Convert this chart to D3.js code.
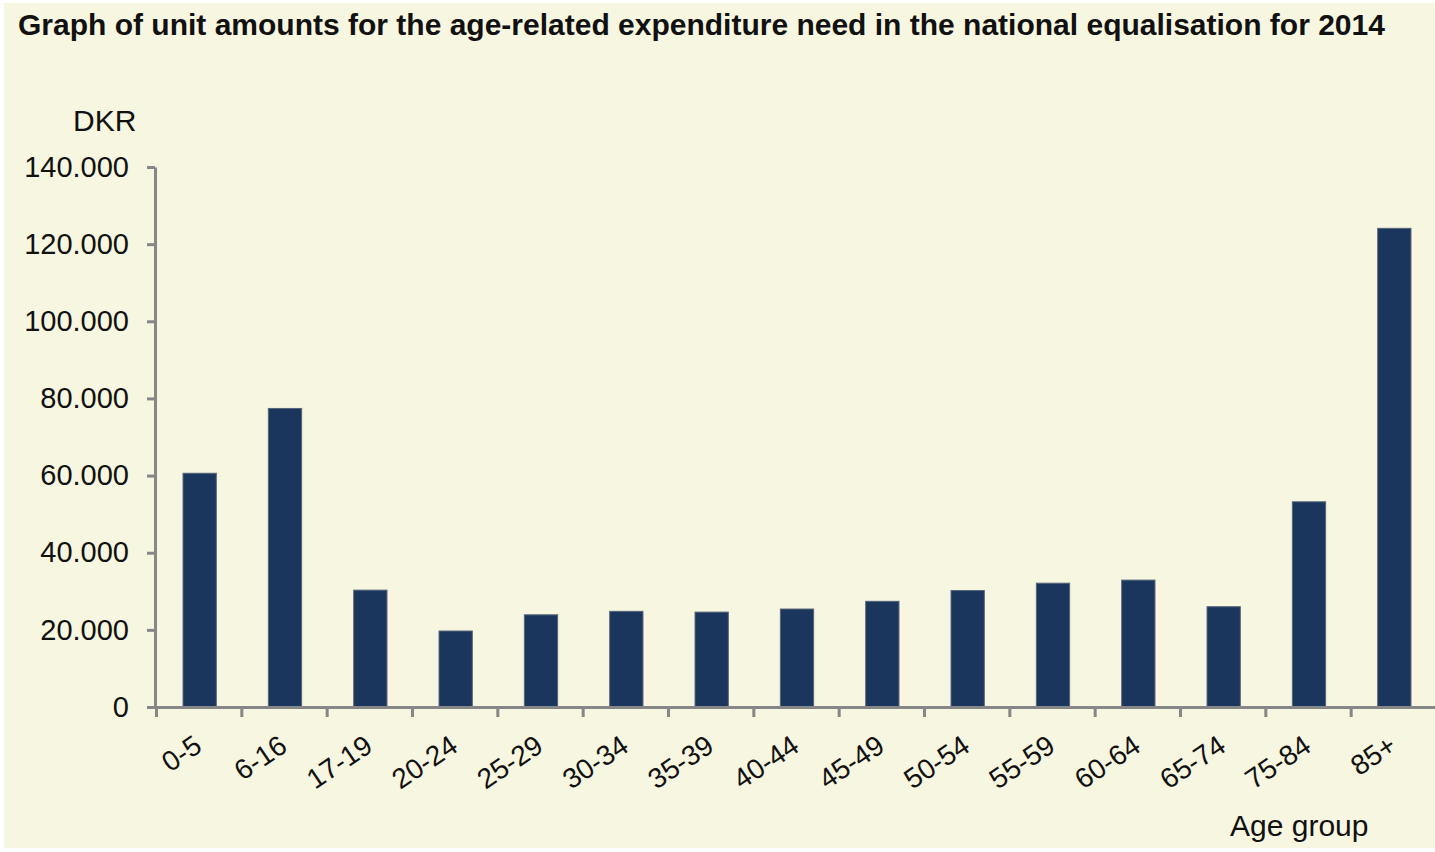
<!DOCTYPE html>
<html>
<head>
<meta charset="utf-8">
<script src="https://cdn.jsdelivr.net/npm/d3@7"></script>
<style>
  body { margin: 0; background: #ffffff; }
  text { font-family: "Liberation Sans", Arial, sans-serif; fill: #111; }
</style>
</head>
<body>
<svg id="chart" width="1435" height="852"></svg>
<script>
var categories = ["0-5", "6-16", "17-19", "20-24", "25-29", "30-34", "35-39", "40-44",
  "45-49", "50-54", "55-59", "60-64", "65-74", "75-84", "85+"];
var values = [60600, 77400, 30300, 19700, 23900, 24800, 24600, 25400,
  27400, 30200, 32100, 32900, 26000, 53200, 124100];
var yTicks = [0, 20000, 40000, 60000, 80000, 100000, 120000, 140000];

var W = 1435, H = 852;
var plotLeft = 156, plotRight = 1436, plotTop = 167, plotBottom = 707;
var axisColor = "#878787";

var svg = d3.select("#chart");

// cream background panel
svg.append("rect")
  .attr("x", 4).attr("y", 3)
  .attr("width", W - 4).attr("height", H - 7)
  .attr("fill", "#f7f6e0");

var x = d3.scaleBand()
  .domain(categories)
  .range([plotLeft, plotRight])
  .paddingInner(0.61)
  .paddingOuter(0.305);

// band edges for the x ticks
var xEdge = d3.scaleLinear().domain([0, categories.length]).range([plotLeft, plotRight]);

var y = d3.scaleLinear().domain([0, 140000]).range([plotBottom, plotTop]);

var fmt = d3.formatLocale({ decimal: ",", thousands: ".", grouping: [3], currency: ["", ""] }).format(",");

// bars
svg.append("g")
  .selectAll("rect")
  .data(values)
  .enter()
  .append("rect")
  .attr("x", (d, i) => x(categories[i]) + 1)
  .attr("y", (d) => y(d))
  .attr("width", x.bandwidth())
  .attr("height", (d) => y(0) - y(d))
  .attr("fill", "#1a365c")
  .style("stroke", "#56657a")
  .style("stroke-width", "1px");

// y axis
var gy = svg.append("g")
  .attr("transform", "translate(" + (plotLeft - 1) + ",0)")
  .call(d3.axisLeft(y).tickValues(yTicks).tickFormat(fmt).tickSize(8).tickSizeOuter(0).tickPadding(18));
gy.select(".domain").attr("stroke", axisColor).attr("stroke-width", 3);
gy.selectAll(".tick line").attr("stroke", axisColor).attr("stroke-width", 3);
gy.selectAll(".tick text")
  .attr("font-size", "29px")
  .attr("font-family", "Liberation Sans, Arial, sans-serif")
  .attr("fill", "#111");

// x axis ticks at band edges
var gx = svg.append("g")
  .attr("transform", "translate(0," + plotBottom + ")")
  .call(d3.axisBottom(xEdge).ticks(categories.length).tickFormat("").tickSize(10).tickSizeOuter(0));
gx.select(".domain").attr("stroke", axisColor).attr("stroke-width", 3);
gx.selectAll(".tick line").attr("stroke", axisColor).attr("stroke-width", 3);

// rotated category labels
svg.append("g")
  .selectAll("text")
  .data(categories)
  .enter()
  .append("text")
  .attr("transform", (d) => "translate(" + (x(d) + x.bandwidth() / 2 + 5) + "," + (plotBottom + 43) + ") rotate(-34)")
  .attr("text-anchor", "end")
  .attr("font-size", "28px")
  .text((d) => d);

// titles
svg.append("text")
  .attr("x", 18).attr("y", 35)
  .attr("font-size", "30px")
  .attr("font-weight", "bold")
  .text("Graph of unit amounts for the age-related expenditure need in the national equalisation for 2014");

svg.append("text")
  .attr("x", 73).attr("y", 131)
  .attr("font-size", "30px")
  .text("DKR");

svg.append("text")
  .attr("x", 1230).attr("y", 836)
  .attr("font-size", "30px")
  .text("Age group");
</script>
</body>
</html>
